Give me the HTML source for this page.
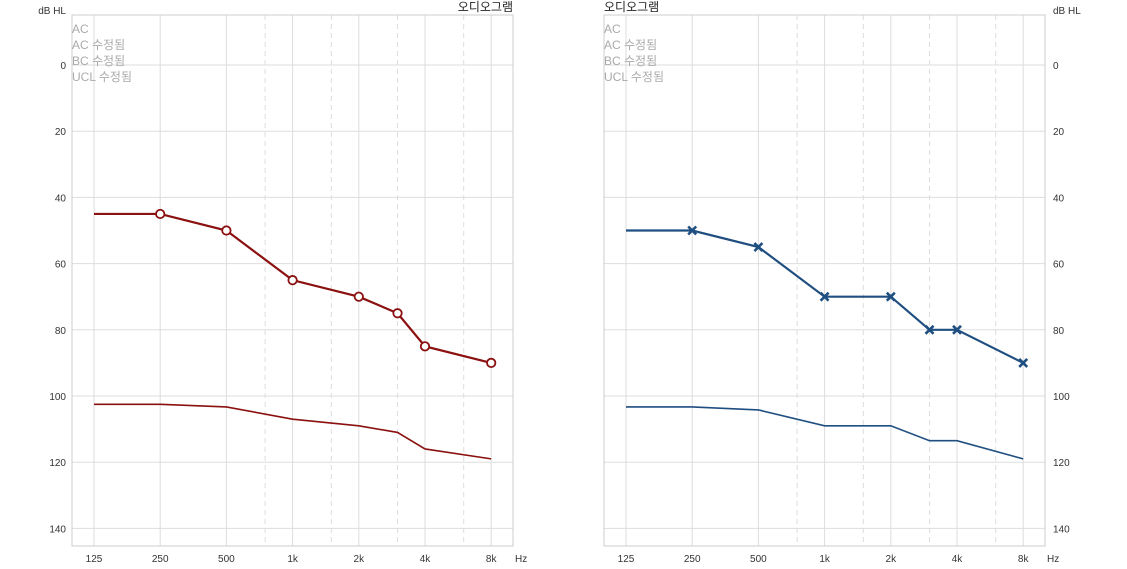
<!DOCTYPE html>
<html><head><meta charset="utf-8"><style>
body{margin:0;background:#fff;width:1127px;height:564px;overflow:hidden}
svg text{font-family:"Liberation Sans","Noto Sans CJK KR",sans-serif}
</style></head><body>
<svg id="s" width="1127" height="564" xmlns="http://www.w3.org/2000/svg"></svg>
<script>
const s=document.getElementById('s');let h='';
const Y=d=>65+d*3.31;
const L2=Math.log2;
function chart(px,x0,side,col,data,low,mark){
  const X=f=>x0+66.2*L2(f/125);
  const top=15,bot=546,r=px+441;
  [125,250,500,1000,2000,4000,8000].forEach(f=>h+=`<line x1="${X(f)}" y1="${top}" x2="${X(f)}" y2="${bot}" stroke="#ddd"/>`);
  [750,1500,3000,6000].forEach(f=>h+=`<line x1="${X(f)}" y1="${top}" x2="${X(f)}" y2="${bot}" stroke="#ddd" stroke-dasharray="5,4"/>`);
  for(let d=0;d<=140;d+=20)h+=`<line x1="${px}" y1="${Y(d)}" x2="${r}" y2="${Y(d)}" stroke="#ddd"/>`;
  h+=`<rect x="${px}" y="${top}" width="441" height="${bot-top}" fill="none" stroke="#ccc"/>`;
  const labs=['125','250','500','1k','2k','4k','8k'];
  [125,250,500,1000,2000,4000,8000].forEach((f,i)=>h+=`<text x="${X(f)}" y="562" font-size="10" text-anchor="middle" fill="#333">${labs[i]}</text>`);
  h+=`<text x="${r+2}" y="562" font-size="10" fill="#333">Hz</text>`;
  for(let d=0;d<=140;d+=20){
    if(side==='l')h+=`<text x="${px-6}" y="${Y(d)+4}" font-size="10" text-anchor="end" fill="#333">${d}</text>`;
    else h+=`<text x="${r+8}" y="${Y(d)+4}" font-size="10" fill="#333">${d}</text>`;
  }
  if(side==='l'){h+=`<text x="${px-6}" y="14" font-size="10" text-anchor="end" fill="#333">dB HL</text>`;
    h+=`<text x="${r}" y="11" font-size="12" text-anchor="end" fill="#222">오디오그램</text>`;}
  else{h+=`<text x="${r+8}" y="14" font-size="10" fill="#333">dB HL</text>`;
    h+=`<text x="${px}" y="11" font-size="12" fill="#222">오디오그램</text>`;}
  ['AC','AC 수정됨','BC 수정됨','UCL 수정됨'].forEach((t,i)=>h+=`<text x="${px}" y="${33+i*16}" font-size="12" fill="#aaa">${t}</text>`);
  const fr=[125,250,500,1000,2000,3000,4000,8000];
  h+=`<polyline fill="none" stroke="${col}" stroke-width="1.6" points="${fr.map((f,i)=>X(f)+','+Y(low[i])).join(' ')}"/>`;
  h+=`<polyline fill="none" stroke="${col}" stroke-width="2.2" points="${fr.map((f,i)=>X(f)+','+Y(data[i])).join(' ')}"/>`;
  fr.slice(1).forEach((f,j)=>{const x=X(f),y=Y(data[j+1]);
    if(mark==='o')h+=`<circle cx="${x}" cy="${y}" r="4.2" fill="#fff" stroke="${col}" stroke-width="1.8"/>`;
    else h+=`<path d="M${x-4},${y-4}L${x+4},${y+4}M${x-4},${y+4}L${x+4},${y-4}" stroke="${col}" stroke-width="2.6"/>`;});
}
chart(72,94,'l','#8b1010',[45,45,50,65,70,75,85,90],[102.5,102.5,103.3,107,109,111,116,119],'o');
chart(604,626,'r','#1f4e80',[50,50,55,70,70,80,80,90],[103.3,103.3,104.2,109,109,113.5,113.5,119],'x');
s.innerHTML=h;
</script>
</body></html>
